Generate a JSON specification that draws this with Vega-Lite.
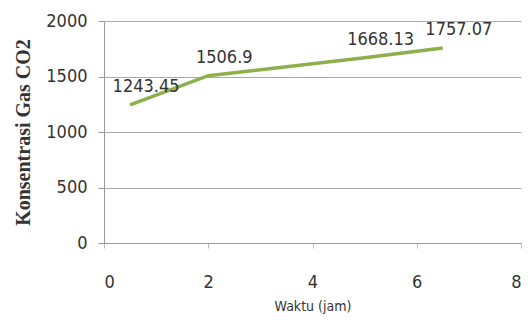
{
  "$schema": "https://vega.github.io/schema/vega-lite/v6.json",
  "width": 417,
  "height": 222,
  "autosize": {"type": "none"},
  "padding": {"left": 104, "top": 21, "right": 11, "bottom": 84},
  "background": "white",
  "config": {"view": {"stroke": null}},
  "data": {"values": [
    {"waktu": 0.5, "co2": 1243.45},
    {"waktu": 2, "co2": 1506.9},
    {"waktu": 5, "co2": 1668.13},
    {"waktu": 6.5, "co2": 1757.07}
  ]},
  "encoding": {
    "x": {"field": "waktu", "type": "quantitative",
      "scale": {"domain": [0, 8], "nice": false},
      "axis": {"values": [0, 2, 4, 6, 8], "title": "Waktu (jam)", "grid": false, "format": "d",
        "domain": true, "domainColor": "#999", "tickColor": "#bbb", "tickSize": 5,
        "labelFont": "DejaVu Sans Condensed", "labelFontSize": 18, "labelColor": "#333",
        "labelPadding": 25,
        "titleFont": "DejaVu Sans Condensed", "titleFontSize": 14, "titleFontWeight": "normal", "titleColor": "#333", "titlePadding": 8}},
    "y": {"field": "co2", "type": "quantitative",
      "scale": {"domain": [0, 2000], "nice": false},
      "axis": {"values": [0, 500, 1000, 1500, 2000], "title": "Konsentrasi Gas CO2", "format": "d",
        "grid": true, "gridColor": "#aaa", "domain": true, "domainColor": "#999",
        "tickColor": "#999", "tickSize": 6,
        "labelFont": "DejaVu Sans Condensed", "labelFontSize": 18, "labelColor": "#333", "labelPadding": 11,
        "titleFont": "Liberation Serif", "titleFontSize": 20, "titleFontWeight": "bold", "titleColor": "#333", "titlePadding": 12}}
  },
  "layer": [
    {"mark": {"type": "line", "color": "#8db04a", "strokeWidth": 3.5, "interpolate": "linear"}},
    {"mark": {"type": "text", "dx": 16, "dy": -18, "font": "DejaVu Sans Condensed", "fontSize": 18, "color": "#333"},
     "encoding": {"text": {"field": "co2", "type": "nominal"}}}
  ]
}
